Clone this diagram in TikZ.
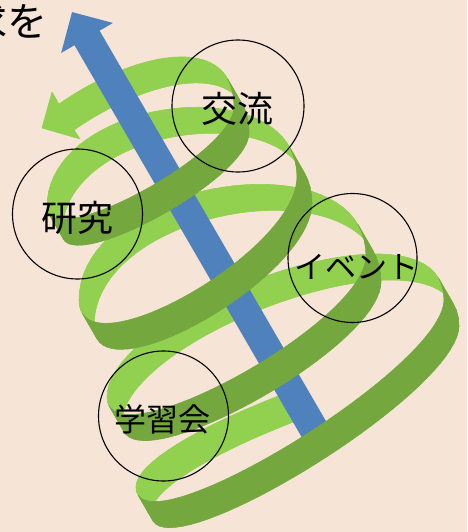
\documentclass[tikz,border=0pt]{standalone}
\usepackage{fontspec}
\newfontfamily\jpfont{Noto Sans CJK JP}
\usetikzlibrary{arrows.meta}

\definecolor{paper}{RGB}{246,229,214}
\definecolor{backgreen}{RGB}{146,208,80}
\definecolor{frontgreen}{RGB}{116,168,63}
\definecolor{axisblue}{RGB}{79,129,189}

\tikzset{
  ring/.style={circle, draw=black, line width=1.1pt, inner sep=0pt},
  word/.style={font=\jpfont, inner sep=0pt, text=black},
  stem/.style={axisblue, line width=29pt, -{Triangle[length=30pt, width=58pt]}},
}

\def\firststep{0}
% half turn of the ribbon along a cubic; #9 = 0 back side, 1 front side
\newcommand{\halfturn}[9]{%
  \ifnum#9=1 \def\tint{frontgreen}\else\def\tint{backgreen}\fi
  \foreach \k in {\firststep,...,39}{%
    \pgfmathsetmacro{\ta}{\k/40}
    \pgfmathsetmacro{\tb}{(\k+1)/40}
    \pgfmathsetmacro{\xa}{(1-\ta)^3*#1+3*(1-\ta)^2*\ta*#3+3*(1-\ta)*\ta^2*#5+\ta^3*#7}
    \pgfmathsetmacro{\ya}{(1-\ta)^3*#2+3*(1-\ta)^2*\ta*#4+3*(1-\ta)*\ta^2*#6+\ta^3*#8}
    \pgfmathsetmacro{\xb}{(1-\tb)^3*#1+3*(1-\tb)^2*\tb*#3+3*(1-\tb)*\tb^2*#5+\tb^3*#7}
    \pgfmathsetmacro{\yb}{(1-\tb)^3*#2+3*(1-\tb)^2*\tb*#4+3*(1-\tb)*\tb^2*#6+\tb^3*#8}
    \pgfmathtruncatemacro{\side}{-0.866*(\xb-\xa)+0.5*(\yb-\ya)<0}
    \ifnum\side=#9
      \filldraw[fill=\tint, draw=\tint, line width=0.6pt, line join=round]
        (\xa,\ya) -- (\xb,\yb) -- ++(-15,-26) -- ++(\xa-\xb,\ya-\yb) -- cycle;
    \fi
  }}

\newcommand{\spiral}[1]{%
  \def\firststep{22}%
  \halfturn{538}{384}{538}{324}{151}{453}{151}{513}{#1}%
  \def\firststep{0}%
  \halfturn{151}{513}{151}{581}{459}{394}{459}{326}{#1}%
  \halfturn{459}{326}{459}{212}{122}{335}{122}{423}{#1}%
  \halfturn{122}{423}{122}{490}{381}{349}{381}{282}{#1}%
  \halfturn{381}{282}{381}{161}{94}{205}{94}{326}{#1}%
  \halfturn{94}{326}{94}{401}{312}{278}{312}{203}{#1}%
  \halfturn{312}{203}{312}{92}{62}{122}{62}{233}{#1}%
  \halfturn{62}{233}{62}{280}{249}{180}{249}{133}{#1}%
  \halfturn{249}{133}{249}{57}{150}{77}{74}{130}{#1}%
}

\begin{document}
\begin{tikzpicture}[x=1pt, y=-1pt]
    \useasboundingbox (0,0) rectangle (467,532);
    \clip (0,0) rectangle (467,532);
    \fill[paper] (0,0) rectangle (467,532);
    \node[word, font=\jpfont\fontsize{40}{40}\selectfont, anchor=east] (motto) at (48,21) {求を};
    \spiral{0}
    \filldraw[fill=backgreen, draw=backgreen, line width=0.6pt, line join=round]
        (59,104) -- (52,92) -- (42,128) -- (80,139) -- (74,130) -- cycle;
    \coordinate (stemfoot) at (317.5,435.5);
    \coordinate (stemtip) at (72,12);
    \draw[stem] (stemfoot) -- (stemtip);
    \spiral{1}
    \node[ring, minimum size=132pt] (kouryu) at (238,106) {};
    \node[ring, minimum size=130pt] (kenkyu) at (77.5,214) {};
    \node[ring, minimum size=129pt] (event) at (352.5,258) {};
    \node[ring, minimum size=130pt] (gakushu) at (163.5,416) {};
    \node[word, font=\jpfont\fontsize{36}{36}\selectfont] (kouryu-t) at (237.5,109) {交流};
    \node[word, font=\jpfont\fontsize{36}{36}\selectfont] (kenkyu-t) at (77.5,217.5) {研究};
    \node[word, font=\jpfont\fontsize{31}{31}\selectfont] (event-t) at (356.5,266.5) {イベント};
    \node[word, font=\jpfont\fontsize{32}{32}\selectfont] (gakushu-t) at (162.5,419) {学習会};
\end{tikzpicture}
\end{document}
